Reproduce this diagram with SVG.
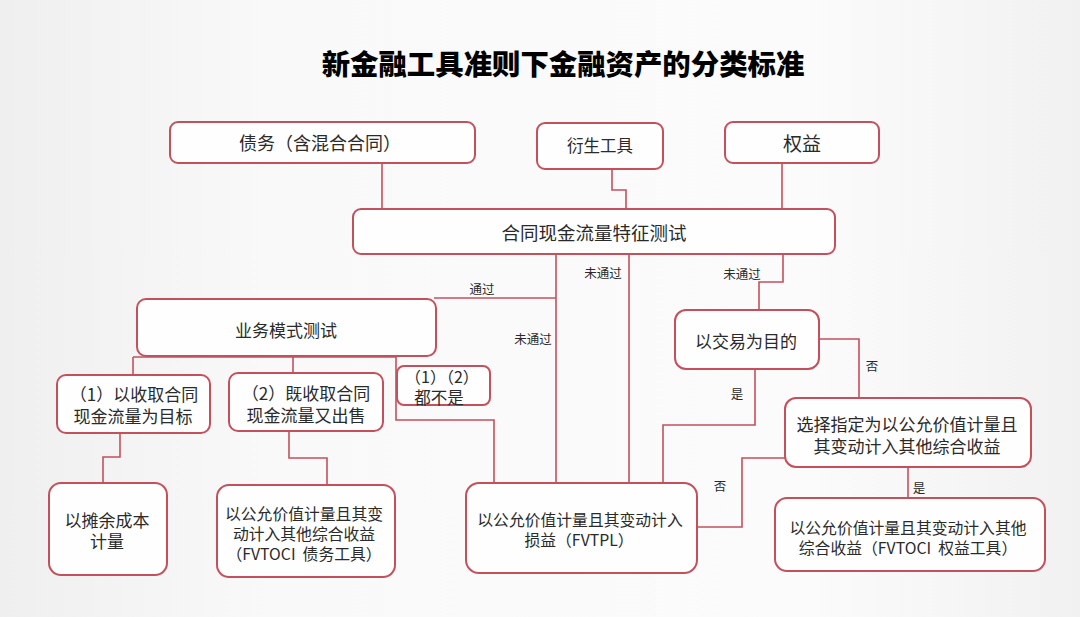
<svg xmlns="http://www.w3.org/2000/svg" width="1080" height="617" viewBox="0 0 1080 617">
<defs>
<linearGradient id="bg" x1="0" y1="0" x2="1" y2="0">
<stop offset="0" stop-color="#efefef"/>
<stop offset="0.25" stop-color="#f9f9f9"/>
<stop offset="0.75" stop-color="#fbfbfb"/>
<stop offset="1" stop-color="#f1f1f1"/>
</linearGradient>
<style>
.box{fill:#fefefe;stroke:#c4505c;stroke-width:2}
.ln{fill:none;stroke:#c4505c;stroke-width:1.6}
text{font-family:"Noto Sans CJK SC","Noto Sans",sans-serif;fill:#2a2a2a;text-anchor:middle;dominant-baseline:central}
.t18{font-size:18px}
.t17{font-size:17px}
.t16{font-size:15.8px}
.lab{font-size:12.5px}
.title{font-size:28.4px;font-weight:900;fill:#000}
</style>
</defs>
<rect width="1080" height="617" fill="url(#bg)"/>
<text class="title" x="563" y="62">新金融工具准则下金融资产的分类标准</text>

<g id="connectors">
<path class="ln" d="M382 163 V209"/>
<path class="ln" d="M612 169 V190 H626 V209"/>
<path class="ln" d="M782 163 V209"/>
<path class="ln" d="M556 254 V483"/>
<path class="ln" d="M434 298 H556"/>
<path class="ln" d="M629 254 V483"/>
<path class="ln" d="M783 254 V282 H759 V310"/>
<path class="ln" d="M133 357 H396"/>
<path class="ln" d="M133 357 V375"/>
<path class="ln" d="M293 357 V373"/>
<path class="ln" d="M396 357 V420 H494 V483"/>
<path class="ln" d="M120 433 V457 H103 V483"/>
<path class="ln" d="M289 431 V458 H327 V485"/>
<path class="ln" d="M755 369 V425 H663 V483"/>
<path class="ln" d="M819 339 H859 V398"/>
<path class="ln" d="M785 458 H742 V527 H697"/>
<path class="ln" d="M908 467 V498"/>
<text class="lab" x="482" y="288">通过</text>
<text class="lab" x="603" y="272">未通过</text>
<text class="lab" x="742" y="273">未通过</text>
<text class="lab" x="533" y="338">未通过</text>
<text class="lab" x="872" y="365">否</text>
<text class="lab" x="737" y="393">是</text>
<text class="lab" x="720" y="485">否</text>
<text class="lab" x="919" y="487">是</text>
</g>

<g id="debt">
<rect class="box" x="170" y="122" width="305" height="41" rx="8"/>
<text class="t18" x="320" y="142">债务（含混合合同）</text>
</g>
<g id="derivative">
<rect class="box" x="537" y="123" width="126" height="46" rx="8"/>
<text class="t17" x="600" y="145" style="font-size:16.5px">衍生工具</text>
</g>
<g id="equity">
<rect class="box" x="725" y="122" width="154" height="41" rx="8"/>
<text class="t18" x="802" y="142" style="font-size:19px">权益</text>
</g>
<g id="cashflow-test">
<rect class="box" x="353" y="209" width="482" height="45" rx="8"/>
<text class="t18" x="594" y="232" style="font-size:18.5px">合同现金流量特征测试</text>
</g>
<g id="business-model">
<rect class="box" x="137" y="299" width="299" height="57" rx="9"/>
<text class="t17" x="286" y="329">业务模式测试</text>
</g>
<g id="model1">
<rect class="box" x="57" y="375" width="153" height="58" rx="9"/>
<text class="t17" x="134" y="393">（1）以收取合同</text>
<text class="t17" x="133" y="415">现金流量为目标</text>
</g>
<g id="model2">
<rect class="box" x="229" y="373" width="154" height="58" rx="9"/>
<text class="t17" x="306" y="392">（2）既收取合同</text>
<text class="t17" x="306" y="414">现金流量又出售</text>
</g>
<g id="model-neither">
<rect class="box" x="397" y="366" width="93" height="39" rx="7"/>
<text class="t17" x="442" y="376" style="font-size:16px">（1）（2）</text>
<text class="t17" x="439" y="397" style="font-size:16.5px">都不是</text>
</g>
<g id="trading">
<rect class="box" x="675" y="310" width="144" height="59" rx="11"/>
<text class="t17" x="746" y="340">以交易为目的</text>
</g>
<g id="designate">
<rect class="box" x="785" y="398" width="246" height="69" rx="11"/>
<text class="t17" x="907" y="423">选择指定为以公允价值计量且</text>
<text class="t17" x="907" y="445">其变动计入其他综合收益</text>
</g>
<g id="amortized">
<rect class="box" x="49" y="483" width="118" height="92" rx="12"/>
<text class="t17" x="107" y="519">以摊余成本</text>
<text class="t17" x="107" y="540">计量</text>
</g>
<g id="fvtoci-debt">
<rect class="box" x="217" y="485" width="178" height="92" rx="12"/>
<text class="t16" x="304" y="513">以公允价值计量且其变</text>
<text class="t16" x="304" y="533">动计入其他综合收益</text>
<text class="t16" x="304" y="553" xml:space="preserve">（FVTOCI  债务工具）</text>
</g>
<g id="fvtpl">
<rect class="box" x="466" y="483" width="231" height="90" rx="13"/>
<text class="t16" x="580" y="519">以公允价值计量且其变动计入</text>
<text class="t16" x="579" y="539">损益（FVTPL）</text>
</g>
<g id="fvtoci-equity">
<rect class="box" x="775" y="498" width="270" height="73" rx="12"/>
<text class="t16" x="908" y="527">以公允价值计量且其变动计入其他</text>
<text class="t16" x="908" y="547" xml:space="preserve">综合收益（FVTOCI  权益工具）</text>
</g>
</svg>
